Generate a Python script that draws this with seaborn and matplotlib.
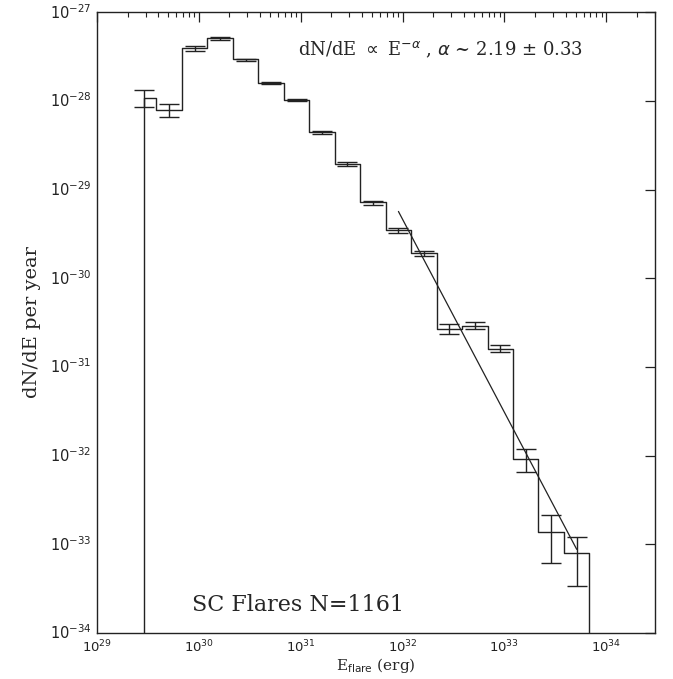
import numpy as np
import pandas as pd
import matplotlib
matplotlib.use("Agg")
import matplotlib.pyplot as plt
import matplotlib.ticker as mticker
import seaborn as sns

# bin centres (erg) and dN/dE per year
bin_E = [2.88e29, 5.13e29, 9.12e29, 1.62e30, 2.88e30, 5.13e30, 9.12e30, 1.62e31, 2.88e31,
         5.13e31, 9.12e31, 1.62e32, 2.88e32, 5.13e32, 9.12e32, 1.62e33, 2.88e33, 5.13e33]
dnde = [1.09e-28, 7.9e-29, 3.9e-28, 5.1e-28, 2.93e-28, 1.6e-28, 1.03e-28, 4.4e-29, 1.93e-29,
        7.2e-30, 3.5e-30, 1.9e-30, 2.65e-31, 2.9e-31, 1.6e-31, 9.2e-33, 1.38e-33, 7.9e-34]
err_hi = [1.31e-28, 9.25e-29, 4.17e-28, 5.22e-28, 3.0e-28, 1.64e-28, 1.05e-28, 4.55e-29, 2.02e-29,
          7.46e-30, 3.7e-30, 2.02e-30, 3.01e-31, 3.2e-31, 1.77e-31, 1.18e-32, 2.15e-33, 1.22e-33]
err_lo = [8.55e-29, 6.5e-29, 3.63e-28, 4.92e-28, 2.85e-28, 1.56e-28, 1.0e-28, 4.25e-29, 1.84e-29,
          6.73e-30, 3.25e-30, 1.77e-30, 2.32e-31, 2.67e-31, 1.47e-31, 6.5e-33, 6.1e-34, 3.4e-34]

# power-law fit endpoints
fit_E = [9.12e31, 5.13e33]
fit_y = [5.66e-30, 8.75e-34]

x_decades = [29, 30, 31, 32, 33, 34]
y_decades = [-34, -33, -32, -31, -30, -29, -28, -27]

ymin, ymax = 1e-34, 1e-27
xmin, xmax = 1e29, 3e34

sns.set_style("white")
plt.rcParams["font.family"] = ["DejaVu Serif"]

fig = plt.figure(figsize=(6.73, 6.79), dpi=100)
ax = fig.add_axes([0.144, 0.068, 0.829, 0.914])

# step outline: vertical line at first centre, steps at geometric midpoints
c = np.array(bin_E)
v = np.array(dnde)
edges = np.sqrt(c[:-1] * c[1:])
last_edge = c[-1] * np.sqrt(c[-1] / c[-2])
step_x = np.concatenate([[c[0], c[0]], edges, [last_edge, last_edge]])
step_y = np.concatenate([[ymin], v, [v[-1], ymin]])
steps = pd.DataFrame({"E": step_x, "y": step_y})

sns.lineplot(data=steps, x="E", y="y", ax=ax, drawstyle="steps-post", color="#222222",
             linewidth=1.0, estimator=None, sort=False)

yerr = np.array([v - np.array(err_lo), np.array(err_hi) - v])
ax.errorbar(c, v, yerr=yerr, fmt="none", ecolor="#222222", elinewidth=1.0, capsize=7, capthick=1.0)

fit = pd.DataFrame({"E": fit_E, "y": fit_y})
sns.lineplot(data=fit, x="E", y="y", ax=ax, color="#222222", linewidth=0.9, estimator=None, sort=False)

ax.set_xscale("log")
ax.set_yscale("log")
ax.set_xlim(xmin, xmax)
ax.set_ylim(ymin, ymax)

xmajor = [10.0 ** d for d in x_decades]
xminor = [m * 10.0 ** d for d in x_decades for m in range(2, 10) if m * 10.0 ** d < xmax]
ax.xaxis.set_major_locator(mticker.FixedLocator(xmajor))
ax.xaxis.set_minor_locator(mticker.FixedLocator(xminor))
ax.yaxis.set_major_locator(mticker.FixedLocator([10.0 ** d for d in y_decades]))
ax.yaxis.set_minor_locator(mticker.NullLocator())
ax.xaxis.set_major_formatter(mticker.FixedFormatter([r"$10^{%d}$" % d for d in x_decades]))
ax.yaxis.set_major_formatter(mticker.FixedFormatter([r"$10^{%d}$" % d for d in y_decades]))
ax.xaxis.set_minor_formatter(mticker.NullFormatter())

ax.tick_params(which="both", direction="in", top=True, right=True, colors="#222222")
ax.tick_params(which="major", length=7, width=0.9, pad=4)
ax.tick_params(axis="x", which="major", labelsize=9.5)
ax.tick_params(axis="y", which="major", labelsize=10.5)
ax.tick_params(which="minor", length=3.5, width=0.8)
fig.canvas.draw()
for lab in ax.get_xticklabels() + ax.get_yticklabels():
    lab.set_family("DejaVu Sans")
for lab in ax.get_yticklabels():
    lab.set_verticalalignment("center")
for s in ax.spines.values():
    s.set_color("#222222")
    s.set_linewidth(1.0)

ax.set_xlabel(r"E$_{\rm flare}$ (erg)", fontsize=11, labelpad=1)
ax.set_ylabel("dN/dE per year", fontsize=14, labelpad=6)

ax.text(0.36, 0.94, r"dN/dE $\propto$ E$^{-\alpha}$ , $\alpha$ ~ 2.19 $\pm$ 0.33",
        transform=ax.transAxes, fontsize=13, ha="left", va="center")
ax.text(0.17, 0.045, "SC Flares N=1161", transform=ax.transAxes, fontsize=16,
        ha="left", va="center")

fig.savefig("out.png", dpi=100)
